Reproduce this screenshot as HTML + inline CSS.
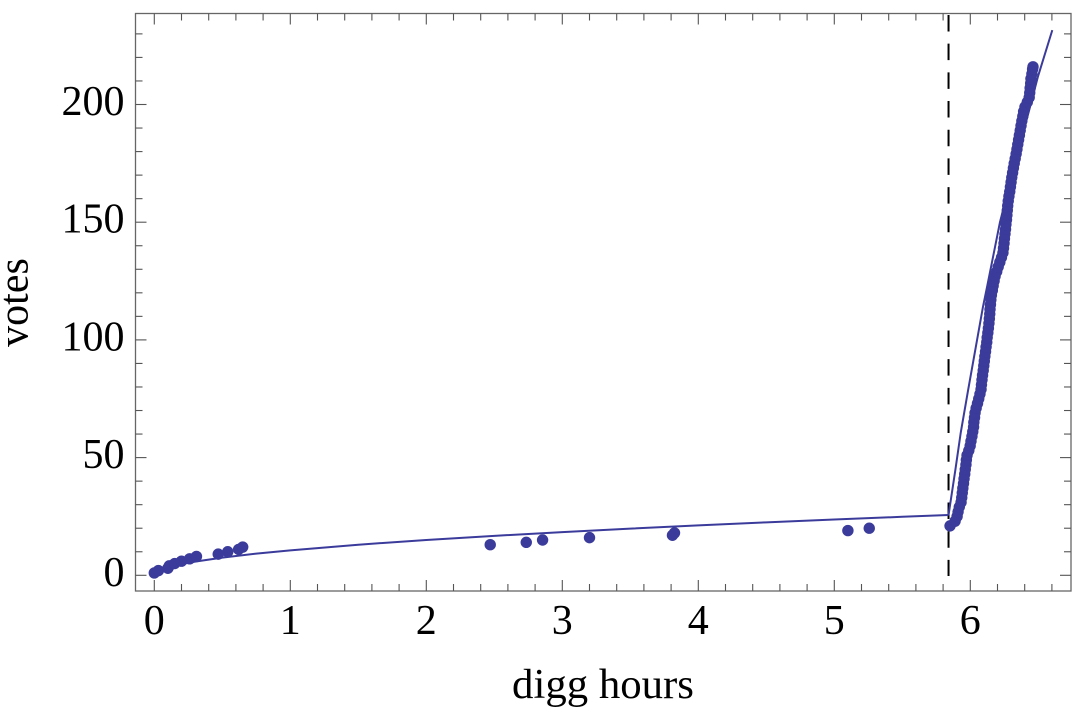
<!DOCTYPE html>
<html>
<head>
<meta charset="utf-8">
<title>Votes vs digg hours</title>
<style>
html,body{margin:0;padding:0;background:#fff;width:1082px;height:720px;overflow:hidden}
svg{display:block}
text{font-family:"Liberation Serif",serif;fill:#000;font-size:42px}
</style>
</head>
<body>
<svg id="chart" width="1082" height="720" viewBox="0 0 1082 720" xmlns="http://www.w3.org/2000/svg">
  <rect x="135.5" y="13.5" width="935.5" height="577.5" fill="none" stroke="#666" stroke-width="1.3"/>
  <g id="ticks"></g>
  <g id="labels"></g>
  <line id="cutoff" stroke="#000" stroke-width="2" stroke-dasharray="16.5 12.18"/>
  <path id="fit-early" fill="none" stroke="#3b3b9b" stroke-width="2"/>
  <path id="fit-late" fill="none" stroke="#3b3b9b" stroke-width="2"/>
  <g id="points"></g>
  <text x="603" y="698" text-anchor="middle" style="font-size:42.8px">digg hours</text>
  <text transform="translate(27.5,302.5) rotate(-90)" text-anchor="middle">votes</text>
</svg>
<script>
const xTickValues = [0, 1, 2, 3, 4, 5, 6];
const yTickValues = [0, 50, 100, 150, 200];
const cutoffHour = [5.84];
const pointHours = [0,0.03,0.1,0.11,0.15,0.2,0.26,0.31,0.47,0.54,0.62,0.65,2.47,2.735,2.855,3.2,3.81,3.825,5.1,5.257,
5.851,5.888,5.903,5.91,5.919,5.932,5.937,5.941,5.945,5.95,5.954,5.959,5.963,5.968,5.971,5.976,5.989,5.999,6.005,6.012,6.018,6.024,6.026,6.031,6.035,6.043,6.053,6.062,6.071,6.079,6.082,6.086,6.09,6.095,6.099,6.103,6.107,6.112,6.116,6.121,6.124,6.129,6.133,6.137,6.14,6.143,6.145,6.148,6.151,6.155,6.162,6.168,6.175,6.182,6.194,6.205,6.217,6.229,6.24,6.244,6.248,6.251,6.255,6.259,6.262,6.266,6.269,6.272,6.275,6.279,6.284,6.29,6.295,6.3,6.305,6.311,6.317,6.323,6.33,6.337,6.343,6.349,6.355,6.361,6.367,6.373,6.379,6.386,6.392,6.402,6.419,6.433,6.437,6.44,6.444,6.446,6.453,6.458,6.461];
const pointVotes = [1,2,3,4,5,6,7,8,9,10,11,12,13,14,15,16,17,18,19,20,
21,23,25,27,29,31,33,35,37,39,41,43,45,47,49,51,53,55,57,59,61,63,65,67,69,71,73,75,77,79,81,83,85,87,89,91,93,95,97,99,101,103,105,107,109,111,113,115,117,119,121,123,125,127,129,131,133,135,137,139,141,143,145,147,149,151,153,155,157,159,161,163,165,167,169,171,173,175,177,179,181,183,185,187,189,191,193,195,197,199,201,203,205,207,209,211,213,215,216];
const earlyFitHours = [0.03,0.1,0.2,0.3,0.5,0.75,1,1.5,2,2.5,3,3.5,4,4.5,5,5.5,5.84];
const earlyFitVotes = [1.8,3.35,4.74,5.8,7.5,9.2,10.6,13,15,16.76,18.36,19.83,21.2,22.49,23.7,24.86,25.6];
const lateFitHours = [5.84,5.89,5.93,5.984,6.093,6.125,6.218,6.28,6.36,6.43,6.496,6.603];
const lateFitVotes = [25.6,44.7,60.7,78.7,114,123,150,164,182,197,211.6,231.6];

const NS = 'http://www.w3.org/2000/svg';
const sx = v => 154.3 + 136 * v;
const sy = v => 575.3 - 2.354 * v;
const FRAME = {l: 135.5, r: 1071, t: 13.5, b: 591};

function seg(parent, x1, y1, x2, y2) {
  const l = document.createElementNS(NS, 'line');
  l.setAttribute('x1', x1); l.setAttribute('y1', y1);
  l.setAttribute('x2', x2); l.setAttribute('y2', y2);
  l.setAttribute('stroke', '#555');
  l.setAttribute('stroke-width', '1.1');
  
  
  parent.appendChild(l);
}
function label(parent, x, y, s, anchor) {
  const t = document.createElementNS(NS, 'text');
  t.setAttribute('x', x); t.setAttribute('y', y);
  t.setAttribute('text-anchor', anchor);
  t.textContent = s;
  
  
  parent.appendChild(t);
}
const tg = document.getElementById('ticks');
const lg = document.getElementById('labels');

for (let i = 0; i <= 33; i++) {
  const v = i / 5, major = i % 5 === 0, len = major ? 11 : 7;
  seg(tg, sx(v), FRAME.b, sx(v), FRAME.b - len);
  seg(tg, sx(v), FRAME.t, sx(v), FRAME.t + len);
}
for (let i = 0; i <= 23; i++) {
  const v = i * 10, major = i % 5 === 0, len = major ? 11 : 7;
  seg(tg, FRAME.l, sy(v), FRAME.l + len, sy(v));
  seg(tg, FRAME.r, sy(v), FRAME.r - len, sy(v));
}
xTickValues.forEach(v => label(lg, sx(v), 634, String(v), 'middle'));
yTickValues.forEach(v => label(lg, 124.5, sy(v) + 10.5, String(v), 'end'));

const cut = document.getElementById('cutoff');
cut.setAttribute('x1', sx(cutoffHour[0]));
cut.setAttribute('x2', sx(cutoffHour[0]));
cut.setAttribute('y1', 15);
cut.setAttribute('y2', 576);

function linePath(xs, ys) {
  return xs.map((x, i) => (i ? 'L' : 'M') + sx(x).toFixed(2) + ' ' + sy(ys[i]).toFixed(2)).join(' ');
}
document.getElementById('fit-early').setAttribute('d', linePath(earlyFitHours, earlyFitVotes));
document.getElementById('fit-late').setAttribute('d', linePath(lateFitHours, lateFitVotes));

const pg = document.getElementById('points');
pointHours.forEach((h, i) => {
  const c = document.createElementNS(NS, 'circle');
  c.setAttribute('cx', sx(h));
  c.setAttribute('cy', sy(pointVotes[i]));
  c.setAttribute('r', 5.7);
  c.setAttribute('fill', '#3b3b9b');
  
  
  pg.appendChild(c);
});
</script>
</body>
</html>
